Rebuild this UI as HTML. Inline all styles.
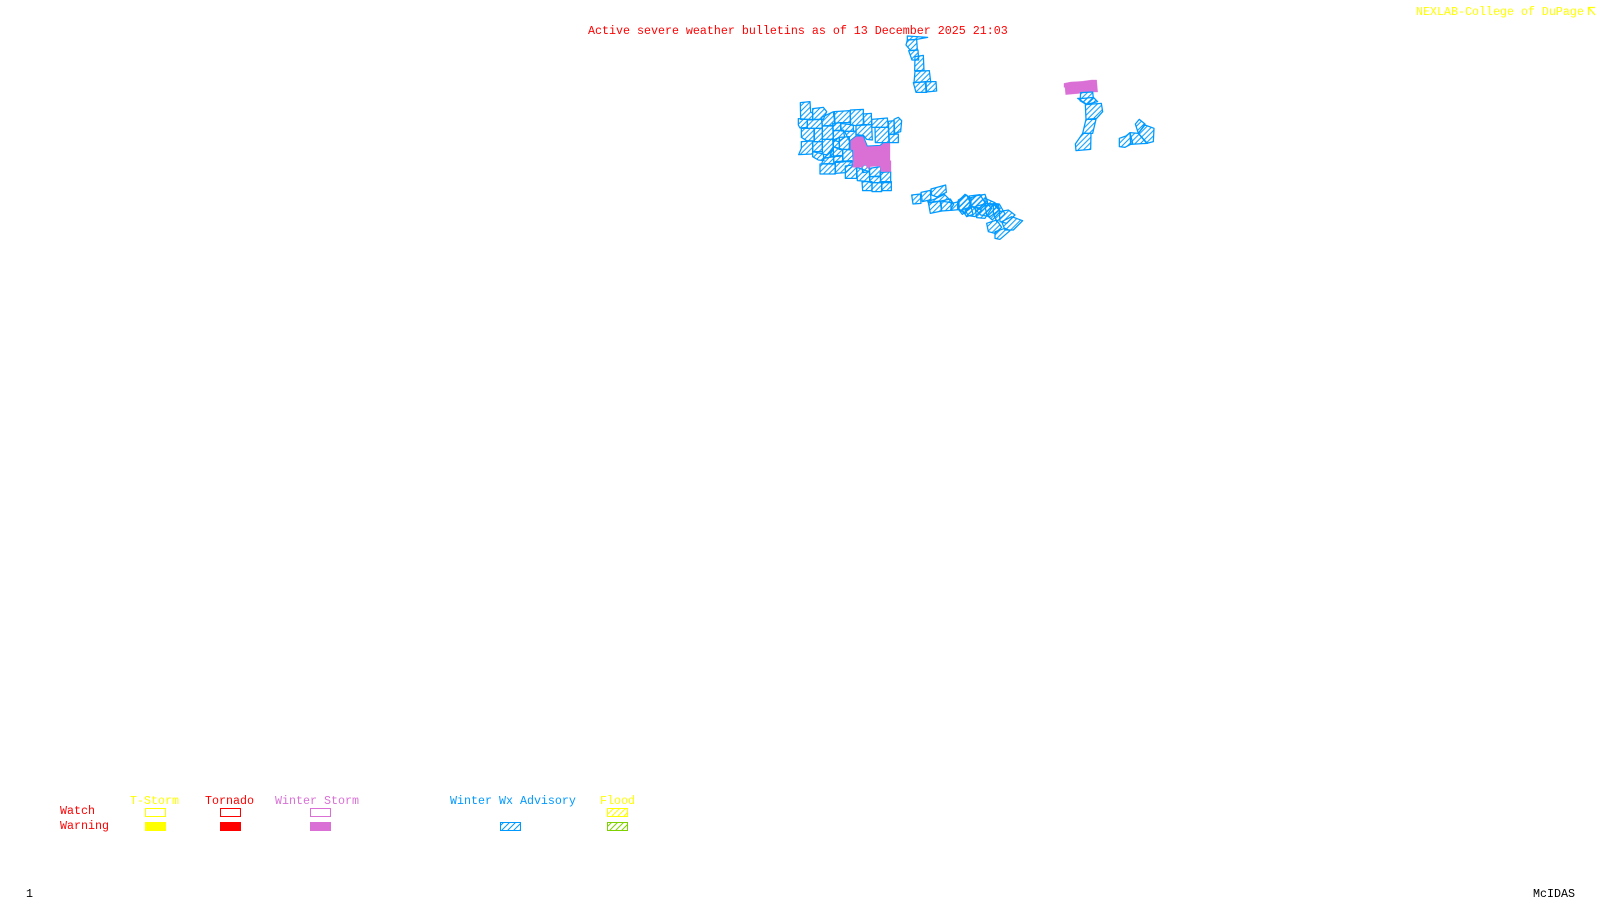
<!DOCTYPE html>
<html><head><meta charset="utf-8"><title>Active severe weather bulletins</title>
<style>
html,body{margin:0;padding:0;background:#fff;width:1600px;height:900px;overflow:hidden}
svg{display:block}
text{font-family:"Liberation Mono",monospace;font-size:11.67px}
.c polygon{fill:url(#hz);stroke:#0099ff;stroke-width:3.8;stroke-linejoin:round}
.s{shape-rendering:crispEdges}
</style></head><body>
<svg width="1600" height="900" viewBox="0 0 1600 900" xmlns="http://www.w3.org/2000/svg">
<defs>
<pattern id="hz" width="16" height="16" patternUnits="userSpaceOnUse"><path d="M-3 19L19 -3M-3 3L3 -3M13 19L19 13" stroke="#0099ff" stroke-width="3" fill="none"/></pattern>
<pattern id="hb" width="6" height="6" patternUnits="userSpaceOnUse"><path d="M-1 7L7 -1M-1 1L1 -1M5 7L7 5" stroke="#0099ff" stroke-width="1" fill="none"/></pattern>
<pattern id="hy" width="6" height="6" patternUnits="userSpaceOnUse"><path d="M-1 7L7 -1M-1 1L1 -1M5 7L7 5" stroke="#ffff00" stroke-width="1" fill="none"/></pattern>
<pattern id="hg" width="6" height="6" patternUnits="userSpaceOnUse"><path d="M-1 7L7 -1M-1 1L1 -1M5 7L7 5" stroke="#7fd000" stroke-width="1" fill="none"/></pattern>
</defs>

<text x="588" y="34" fill="#ff0000">Active severe weather bulletins as of 13 December 2025 21:03</text>
<text x="1416" y="15" fill="#ffff00">NEXLAB-College of DuPage</text>
<g fill="none" stroke="#ffff00" stroke-width="1.3"><path d="M1588.500 15V7.500H1595M1589 8L1595 15"/></g>

<!-- main cluster + north strip -->
<g class="c" transform="translate(770 30) scale(0.33333)">
<polygon points="91,218 120,215 122,246 128,250 128,268 92,268"/>
<polygon points="128,236 160,232 170,245 160,268 128,268"/>
<polygon points="85,266 112,268 112,292 90,294 85,285"/>
<polygon points="112,270 155,268 157,295 112,295"/>
<polygon points="155,262 190,245 195,285 157,288"/>
<polygon points="193,245 240,242 242,278 212,278 195,280"/>
<polygon points="241,240 280,238 280,283 258,287 241,285"/>
<polygon points="280,252 304,250 305,284 282,284"/>
<polygon points="305,268 352,264 355,292 306,292"/>
<polygon points="315,292 355,292 357,338 316,338"/>
<polygon points="355,274 372,272 372,312 357,314"/>
<polygon points="372,268 385,262 395,272 392,305 374,310"/>
<polygon points="357,314 385,312 385,338 358,338"/>
<polygon points="94,295 132,295 132,333 110,332 94,322"/>
<polygon points="133,295 157,295 157,335 133,335"/>
<polygon points="157,288 188,288 190,328 157,328"/>
<polygon points="188,280 212,278 212,302 190,302"/>
<polygon points="212,280 250,285 250,304 214,303"/>
<polygon points="190,302 220,300 224,322 205,335 190,330"/>
<polygon points="224,305 258,303 258,330 238,332"/>
<polygon points="258,287 305,284 307,330 290,328 280,316 258,314"/>
<polygon points="94,335 128,333 128,372 86,374 94,355"/>
<polygon points="128,335 157,335 157,365 128,365"/>
<polygon points="157,328 188,328 190,360 172,375 157,372"/>
<polygon points="190,330 208,322 208,358 190,350"/>
<polygon points="208,322 238,320 238,358 208,358"/>
<polygon points="172,375 190,350 190,380 160,385"/>
<polygon points="190,350 218,358 218,378 190,380 180,378"/>
<polygon points="128,365 160,372 162,392 145,390 128,380"/>
<polygon points="218,358 248,360 250,396 218,394"/>
<polygon points="190,378 218,376 220,396 192,398"/>
<polygon points="160,385 190,380 192,402 155,402"/>
<polygon points="150,402 195,400 196,432 150,432"/>
<polygon points="196,395 245,392 248,408 226,428 196,430"/>
<polygon points="226,408 260,403 260,445 226,445"/>
<polygon points="260,412 298,425 300,455 262,452"/>
<polygon points="275,405 298,405 298,425 278,428"/>
<polygon points="298,415 332,410 332,438 300,440"/>
<polygon points="330,428 362,425 362,458 332,458"/>
<polygon points="298,440 332,440 332,458 300,458"/>
<polygon points="276,455 306,455 306,482 278,482"/>
<polygon points="306,458 335,458 335,485 306,485"/>
<polygon points="335,455 364,455 364,482 336,482"/>
<!-- north strip -->
<polygon points="412,18 473,22 440,28 412,30"/>
<polygon points="412,30 440,28 442,60 422,62 408,45"/>
<polygon points="416,62 444,60 446,90 426,90"/>
<polygon points="435,80 460,76 462,122 434,122"/>
<polygon points="435,124 478,122 482,155 432,158"/>
<polygon points="430,158 468,155 470,187 438,187"/>
<polygon points="466,155 498,155 500,183 468,186"/>
<!-- magenta region -->
<polygon style="fill:#da70d6;stroke:#da70d6;stroke-width:1" points="240,332 258,318 280,318 292,348 330,346 340,338 360,338 360,392 363,392 363,425 333,425 330,408 300,410 296,418 285,404 275,412 248,412 250,395 250,360 240,358"/>
<polyline style="fill:none;stroke:#0099ff;stroke-width:3" points="240,358 240,332 258,318 280,318 292,348 330,346 340,338 360,338"/>
</g>

<!-- east strip -->
<g class="c" transform="translate(885 175) scale(0.33333)">
<polygon points="80,60 106,57 108,85 84,87"/>
<polygon points="108,52 136,46 138,74 112,80"/>
<polygon points="138,42 182,30 184,52 156,66 140,60"/>
<polygon points="128,80 150,72 178,58 204,84 168,78 132,84"/>
<polygon points="130,82 165,78 170,108 136,115"/>
<polygon points="168,78 196,72 206,88 196,106 170,108"/>
<polygon points="198,86 222,80 222,104 198,106"/>
<polygon points="218,80 240,58 258,70 256,100 232,118 218,100"/>
<polygon points="258,68 275,62 300,58 308,82 290,100 258,95"/>
<polygon points="232,104 258,95 264,118 245,125"/>
<polygon points="240,105 265,95 290,105 270,125 250,122"/>
<polygon points="270,95 305,85 320,100 300,130 275,128"/>
<polygon points="300,92 340,88 345,110 322,135 305,120"/>
</g>
<g class="c" transform="translate(960 190) scale(0.33333)">
<polygon points="-5,30 20,15 32,40 15,72 -5,55"/>
<polygon points="28,18 60,14 75,38 50,62 30,42"/>
<polygon points="50,62 75,40 100,42 118,60 90,80 62,75"/>
<polygon points="75,25 105,38 118,60 100,42 75,40"/>
<polygon points="100,40 118,42 135,72 110,95 100,70"/>
<polygon points="118,65 145,60 165,75 140,100 120,95"/>
<polygon points="80,100 110,90 125,112 105,130 85,125"/>
<polygon points="125,95 155,80 188,92 160,120 135,120"/>
<polygon points="105,125 135,115 150,122 120,148 105,145"/>
</g>

<!-- right strip -->
<g class="c" transform="translate(1030 70) scale(0.33333)">
<polygon style="fill:#da70d6;stroke:#da70d6;stroke-width:1" points="102,40 122,36 155,34 185,30 200,30 203,66 188,66 150,70 107,74 105,52 102,52"/>
<polygon points="152,68 188,66 190,85 170,104 150,92"/>
<polygon points="143,85 160,85 190,82 203,95 170,103"/>
<polygon points="166,104 214,100 218,125 200,145 168,148"/>
<polygon points="168,148 198,148 188,190 158,190"/>
<polygon points="158,190 183,190 182,238 138,242 136,222"/>
</g>
<g class="c" transform="translate(1110 110) scale(0.33333)">
<polygon points="76,42 88,28 105,42 85,70"/>
<polygon points="85,70 105,45 132,55 130,95 110,100"/>
<polygon points="60,68 85,70 112,100 62,103"/>
<polygon points="28,85 48,78 60,68 68,100 45,112 28,110"/>
</g>

<!-- legend -->
<text x="130" y="804" fill="#ffff00">T-Storm</text>
<text x="205" y="804" fill="#ff0000">Tornado</text>
<text x="275" y="804" fill="#da70d6">Winter Storm</text>
<text x="450" y="804" fill="#0099ff">Winter Wx Advisory</text>
<text x="600" y="804" fill="#ffff00">Flood</text>
<text x="60" y="814" fill="#ff0000">Watch</text>
<text x="60" y="829" fill="#ff0000">Warning</text>
<g class="s">
<rect x="145.500" y="808.500" width="20" height="8" fill="none" stroke="#ffff00"/>
<rect x="145" y="822" width="21" height="9" fill="#ffff00"/>
<rect x="220.500" y="808.500" width="20" height="8" fill="none" stroke="#ff0000"/>
<rect x="220" y="822" width="21" height="9" fill="#ff0000"/>
<rect x="310.500" y="808.500" width="20" height="8" fill="none" stroke="#da70d6"/>
<rect x="310" y="822" width="21" height="9" fill="#da70d6"/>
<rect x="500.500" y="822.500" width="20" height="8" fill="url(#hb)" stroke="#0099ff"/>
<rect x="607.500" y="808.500" width="20" height="8" fill="url(#hy)" stroke="#ffff00"/>
<rect x="607.500" y="822.500" width="20" height="8" fill="url(#hg)" stroke="#7fd000"/>
</g>

<text x="26" y="897" fill="#000">1</text>
<text x="1533" y="897" fill="#000">McIDAS</text>
</svg>
</body></html>
